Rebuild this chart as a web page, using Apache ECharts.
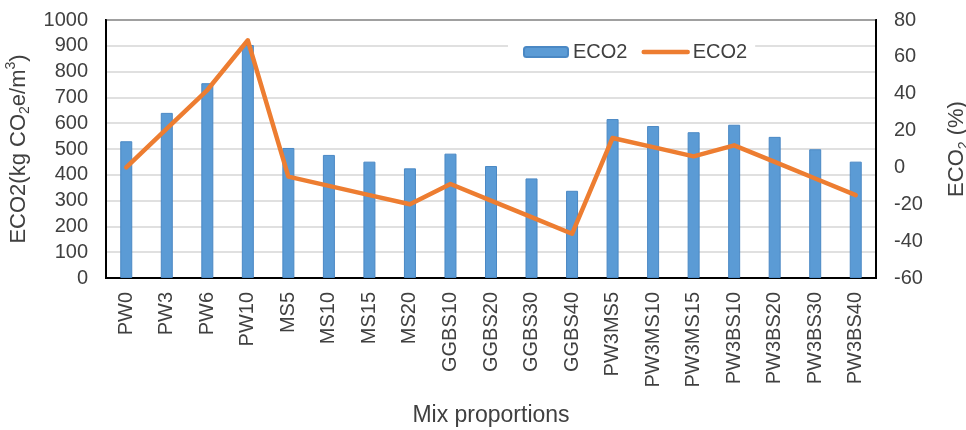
<!DOCTYPE html>
<html>
<head>
<meta charset="utf-8">
<script src="https://cdn.jsdelivr.net/npm/echarts@6/dist/echarts.min.js"></script>
<style>
  html, body { margin: 0; padding: 0; background: #fff; }
  #chart { width: 966px; height: 430px; }
</style>
</head>
<body>
<div id="chart"></div>
<script>
// Mix designs along the x axis
const mixes = ['PW0', 'PW3', 'PW6', 'PW10', 'MS5', 'MS10', 'MS15', 'MS20',
  'GGBS10', 'GGBS20', 'GGBS30', 'GGBS40', 'PW3MS5', 'PW3MS10', 'PW3MS15',
  'PW3BS10', 'PW3BS20', 'PW3BS30', 'PW3BS40'];

// Embodied CO2 per cubic metre (kg CO2e/m3), left axis
const eco2Absolute = [530, 640, 755, 903, 504, 477, 451, 425, 482, 434, 386, 338,
  616, 589, 565, 594, 547, 499, 451];

// Change in embodied CO2 relative to PW0 (%), right axis
const eco2Change = [0, 21, 42, 69, -5, -10, -15, -20, -9, -18, -27, -36,
  16, 11, 6, 12, 3, -6, -15];

// Axis ranges and steps
const leftAxisRange = { min: 0, max: 1000, step: 100 };
const rightAxisRange = { min: -60, max: 80, step: 20 };

const FONT = '"Liberation Sans", Arial, sans-serif';
const TEXT = '#404040';
const BAR_COLOR = '#5b9bd5';
const LINE_COLOR = '#ed7d31';

const chart = echarts.init(document.getElementById('chart'), null, { renderer: 'canvas' });

const titleRich = {
  n: { fontSize: 22, fontFamily: FONT, color: TEXT, lineHeight: 28, verticalAlign: 'middle' },
  sub: { fontSize: 14, fontFamily: FONT, color: TEXT, lineHeight: 14, verticalAlign: 'bottom' },
  sup: { fontSize: 14, fontFamily: FONT, color: TEXT, lineHeight: 14, verticalAlign: 'top' }
};

chart.setOption({
  animation: false,
  backgroundColor: '#fff',
  textStyle: { fontFamily: FONT, color: TEXT },
  grid: {
    left: 106, right: 90, top: 20, bottom: 152,
    outerBoundsMode: 'none',
    containLabel: false,
    show: true, borderColor: '#000', borderWidth: 2, backgroundColor: 'transparent'
  },
  legend: {
    left: 508, top: 38,
    padding: [4, 8, 4, 15],
    backgroundColor: '#fff',
    itemWidth: 44, itemHeight: 10, itemGap: 14,
    textStyle: { fontSize: 20, fontFamily: FONT, color: TEXT },
    formatter: () => 'ECO2',
    data: [
      { name: 'ECO2 (kg)' },
      {
        name: 'ECO2 (%)',
        itemStyle: { opacity: 0 },
        lineStyle: { color: LINE_COLOR, width: 4.5, cap: 'round' }
      }
    ]
  },
  xAxis: {
    type: 'category',
    data: mixes,
    name: 'Mix proportions',
    nameLocation: 'middle',
    nameGap: 126,
    nameTextStyle: { fontSize: 23, fontFamily: FONT, color: TEXT },
    axisLine: { show: true, lineStyle: { color: '#000', width: 2 } },
    axisTick: { show: false },
    axisLabel: { rotate: 90, margin: 14, fontSize: 20, fontFamily: FONT, color: TEXT, interval: 0 }
  },
  yAxis: [
    {
      type: 'value',
      min: leftAxisRange.min, max: leftAxisRange.max, interval: leftAxisRange.step,
      name: '{n|ECO2(kg CO}{sub|2}{n|e/m}{sup|3}{n|)}',
      nameLocation: 'middle',
      nameGap: 71,
      nameRotate: 90,
      nameTextStyle: { rich: titleRich },
      axisLine: { show: true, lineStyle: { color: '#000', width: 2 } },
      axisTick: { show: false },
      axisLabel: { margin: 18, fontSize: 20, fontFamily: FONT, color: TEXT, formatter: v => String(v) },
      splitLine: { show: true, lineStyle: { color: '#d6d6d6', width: 1.5 } }
    },
    {
      type: 'value',
      min: rightAxisRange.min, max: rightAxisRange.max, interval: rightAxisRange.step,
      name: '{n|ECO}{sub|2}{n| (%)}',
      nameLocation: 'middle',
      nameGap: 67,
      nameRotate: 90,
      nameTextStyle: { rich: titleRich },
      axisLine: { show: true, lineStyle: { color: '#000', width: 2 } },
      axisTick: { show: false },
      axisLabel: { margin: 18, fontSize: 20, fontFamily: FONT, color: TEXT, formatter: v => String(v) },
      splitLine: { show: false }
    }
  ],
  series: [
    {
      name: 'ECO2 (kg)',
      type: 'bar',
      yAxisIndex: 0,
      data: eco2Absolute,
      barWidth: 12,
      itemStyle: { color: BAR_COLOR, borderColor: '#4a88c4', borderWidth: 1 },
      z: 2
    },
    {
      name: 'ECO2 (%)',
      type: 'line',
      yAxisIndex: 1,
      data: eco2Change,
      symbol: 'none',
      lineStyle: { color: LINE_COLOR, width: 4.5, cap: 'round', join: 'round' },
      itemStyle: { color: LINE_COLOR },
      z: 3
    }
  ]
});
</script>
</body>
</html>
